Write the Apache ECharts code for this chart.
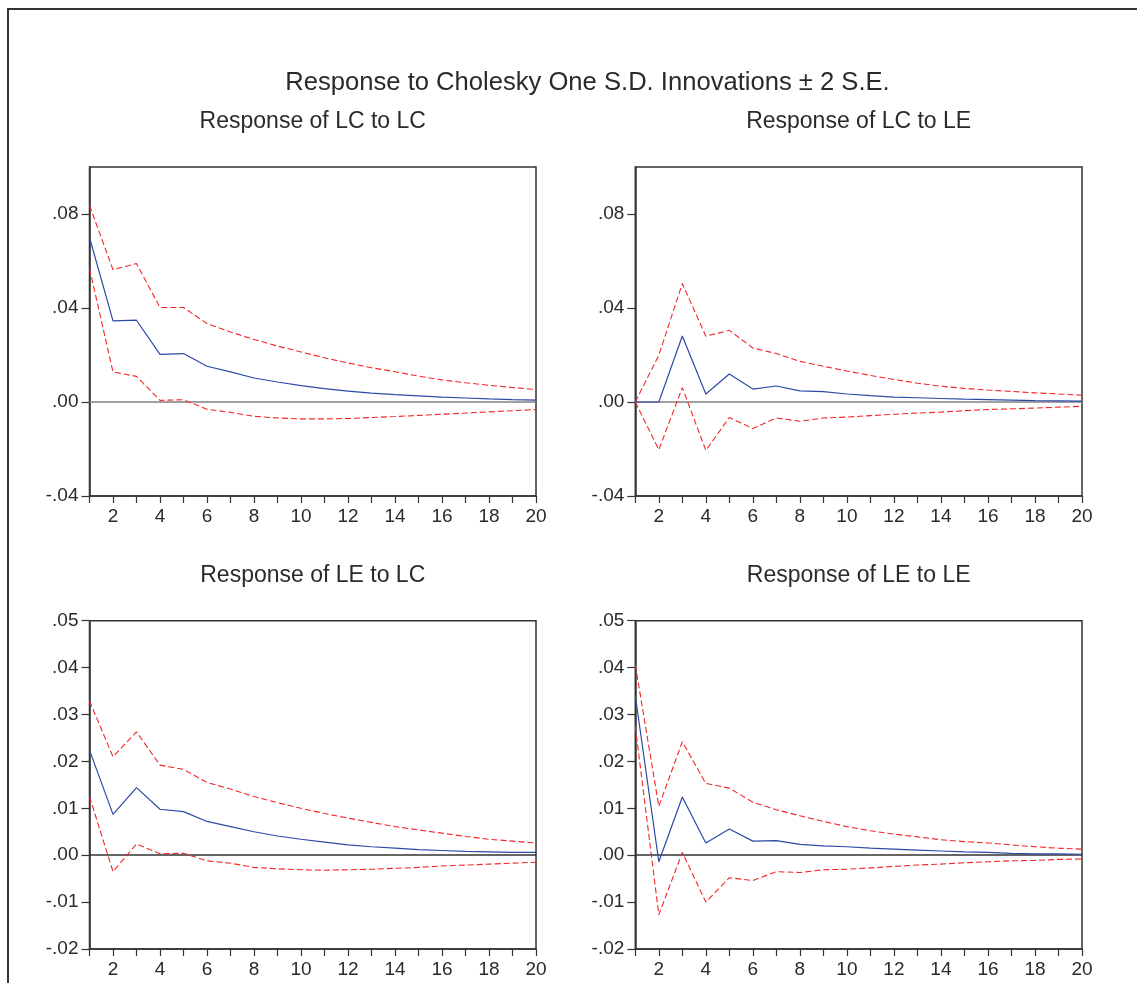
<!DOCTYPE html>
<html>
<head>
<meta charset="utf-8">
<script src="https://cdn.jsdelivr.net/npm/echarts@6/dist/echarts.min.js"></script>
<style>
  html, body { margin: 0; padding: 0; background: #fff; }
  #main { width: 1137px; height: 983px; }
</style>
</head>
<body>
<div id="main"></div>
<script>
// periods 1..20
const periods = [1,2,3,4,5,6,7,8,9,10,11,12,13,14,15,16,17,18,19,20];

// Response of LC to LC
const lcLcResp  = [0.0700,0.0345,0.0348,0.0203,0.0206,0.0152,0.0128,0.0102,0.0085,0.0070,0.0057,0.0046,0.0038,0.0031,0.0026,0.0021,0.0017,0.0013,0.0010,0.0008];
const lcLcUpper = [0.0837,0.0563,0.0589,0.0402,0.0402,0.0334,0.0298,0.0266,0.0238,0.0213,0.0188,0.0166,0.0146,0.0129,0.0110,0.0094,0.0082,0.0071,0.0062,0.0053];
const lcLcLower = [0.0568,0.0128,0.0109,0.0007,0.0010,-0.0031,-0.0044,-0.0061,-0.0068,-0.0072,-0.0072,-0.0070,-0.0066,-0.0062,-0.0057,-0.0052,-0.0047,-0.0042,-0.0037,-0.0032];

// Response of LC to LE
const lcLeResp  = [0,0,0.0281,0.0034,0.0119,0.0055,0.0068,0.0047,0.0044,0.0034,0.0027,0.0021,0.0018,0.0015,0.0012,0.0010,0.0008,0.0006,0.0005,0.0004];
const lcLeUpper = [0,0.0199,0.0504,0.0280,0.0305,0.0230,0.0206,0.0173,0.0152,0.0132,0.0113,0.0096,0.0080,0.0067,0.0058,0.0051,0.0045,0.0039,0.0034,0.0029];
const lcLeLower = [0,-0.0203,0.0061,-0.0206,-0.0066,-0.0113,-0.0068,-0.0082,-0.0068,-0.0064,-0.0058,-0.0052,-0.0047,-0.0043,-0.0037,-0.0032,-0.0029,-0.0026,-0.0022,-0.0018];

// Response of LE to LC
const leLcResp  = [0.0224,0.0087,0.0144,0.0098,0.0093,0.0072,0.0061,0.0050,0.0041,0.0034,0.0028,0.0022,0.0018,0.0015,0.0012,0.0010,0.0008,0.0007,0.0006,0.0006];
const leLcUpper = [0.0329,0.0210,0.0263,0.0192,0.0183,0.0155,0.0141,0.0125,0.0112,0.0100,0.0089,0.0079,0.0070,0.0061,0.0054,0.0047,0.0040,0.0034,0.0030,0.0026];
const leLcLower = [0.0125,-0.0035,0.0024,0.0003,0.0004,-0.0012,-0.0017,-0.0026,-0.0029,-0.0031,-0.0032,-0.0031,-0.0030,-0.0028,-0.0026,-0.0023,-0.0021,-0.0019,-0.0017,-0.0015];

// Response of LE to LE
const leLeResp  = [0.0340,-0.0014,0.0124,0.0026,0.0056,0.0030,0.0031,0.0023,0.0020,0.0018,0.0015,0.0013,0.0011,0.0009,0.0007,0.0006,0.0004,0.0003,0.0003,0.0002];
const leLeUpper = [0.0406,0.0104,0.0242,0.0153,0.0143,0.0113,0.0097,0.0084,0.0072,0.0061,0.0052,0.0045,0.0039,0.0033,0.0029,0.0026,0.0022,0.0018,0.0015,0.0013];
const leLeLower = [0.0274,-0.0127,0.0006,-0.0100,-0.0048,-0.0054,-0.0035,-0.0037,-0.0031,-0.0030,-0.0027,-0.0024,-0.0021,-0.0019,-0.0016,-0.0014,-0.0012,-0.0011,-0.0009,-0.0008];

// y-axis ticks
const topTicks = [-0.04, 0, 0.04, 0.08];
const bottomTicks = [-0.02, -0.01, 0, 0.01, 0.02, 0.03, 0.04, 0.05];

const panels = [
    { title: 'Response of LC to LC', resp: lcLcResp, up: lcLcUpper, lo: lcLcLower, ticks: topTicks, min: -0.04, max: 0.10, zero: '#808080' },
    { title: 'Response of LC to LE', resp: lcLeResp, up: lcLeUpper, lo: lcLeLower, ticks: topTicks, min: -0.04, max: 0.10, zero: '#808080' },
    { title: 'Response of LE to LC', resp: leLcResp, up: leLcUpper, lo: leLcLower, ticks: bottomTicks, min: -0.02, max: 0.05, zero: '#333' },
    { title: 'Response of LE to LE', resp: leLeResp, up: leLeUpper, lo: leLeLower, ticks: bottomTicks, min: -0.02, max: 0.05, zero: '#333' }
];

const gridPos = [
    { left: 89.5, top: 167, width: 446.5, height: 329 },
    { left: 635.3, top: 167, width: 446.7, height: 329 },
    { left: 89.5, top: 620.7, width: 446.5, height: 328.3 },
    { left: 635.3, top: 620.7, width: 446.7, height: 328.3 }
];

const font = 'Liberation Sans, Arial, Helvetica, sans-serif';
const ink = '#2a2a2a';

function pairs(arr) {
    return periods.map((p, i) => [p, arr[i]]);
}

function fmtY(v) {
    const s = Math.abs(v).toFixed(2).slice(1);
    return v < 0 ? '-' + s : s;
}

let myChart = echarts.init(document.getElementById('main'), null, { renderer: 'canvas' });

let titles = [{
    text: 'Response to Cholesky One S.D. Innovations \u00b1 2 S.E.',
    left: 587.5, top: 70, textAlign: 'center', padding: 0,
    textStyle: { fontFamily: font, fontSize: 25.6, fontWeight: 'normal', color: ink }
}];
let grids = [], xAxes = [], yAxes = [], series = [];

panels.forEach((p, i) => {
    const g = gridPos[i];
    titles.push({
        text: p.title,
        left: g.left + g.width / 2, top: g.top - 56.5, textAlign: 'center', padding: 0,
        textStyle: { fontFamily: font, fontSize: 23, fontWeight: 'normal', color: ink }
    });
    grids.push({
        left: g.left, top: g.top, width: g.width, height: g.height,
        show: true, borderColor: '#333', borderWidth: 1.5, backgroundColor: '#fff'
    });
    xAxes.push({
        gridIndex: i, type: 'value', min: 1, max: 20, interval: 1,
        axisLine: { show: true, onZero: false, lineStyle: { color: '#333', width: 1.5 } },
        axisTick: { show: true, inside: false, length: 7, lineStyle: { color: '#333', width: 1.2 } },
        axisLabel: {
            margin: 11, fontFamily: font, fontSize: 19, color: ink,
            formatter: v => (v % 2 === 0 ? String(v) : '')
        },
        splitLine: { show: false }
    });
    yAxes.push({
        gridIndex: i, type: 'value', min: p.min, max: p.max,
        axisLine: { show: true, onZero: false, lineStyle: { color: '#333', width: 1.5 } },
        axisTick: { show: true, inside: false, length: 8, customValues: p.ticks, lineStyle: { color: '#333', width: 1.2 } },
        axisLabel: { margin: 11, fontFamily: font, fontSize: 19, color: ink, customValues: p.ticks, formatter: fmtY },
        splitLine: { show: false }
    });
    series.push({
        type: 'line', xAxisIndex: i, yAxisIndex: i, data: pairs(p.up),
        symbol: 'none', lineStyle: { color: '#f52525', width: 1.1, type: [6, 3] }, z: 3
    });
    series.push({
        type: 'line', xAxisIndex: i, yAxisIndex: i, data: pairs(p.lo),
        symbol: 'none', lineStyle: { color: '#f52525', width: 1.1, type: [6, 3] }, z: 3
    });
    series.push({
        type: 'line', xAxisIndex: i, yAxisIndex: i, data: pairs(p.resp),
        symbol: 'none', lineStyle: { color: '#2b4aa6', width: 1.2 }, z: 4,
        markLine: {
            silent: true, symbol: 'none', label: { show: false },
            lineStyle: { color: p.zero, type: 'solid', width: 1.5 },
            data: [{ yAxis: 0 }], z: 2
        }
    });
});

let option = {
    backgroundColor: '#fff',
    animation: false,
    title: titles,
    graphic: [{
        type: 'rect', silent: true, z: -1,
        shape: { x: 8, y: 9, width: 1200, height: 1100 },
        style: { fill: 'none', stroke: '#333', lineWidth: 2 }
    }],
    grid: grids,
    xAxis: xAxes,
    yAxis: yAxes,
    series: series
};

myChart.setOption(option);
</script>
</body>
</html>
